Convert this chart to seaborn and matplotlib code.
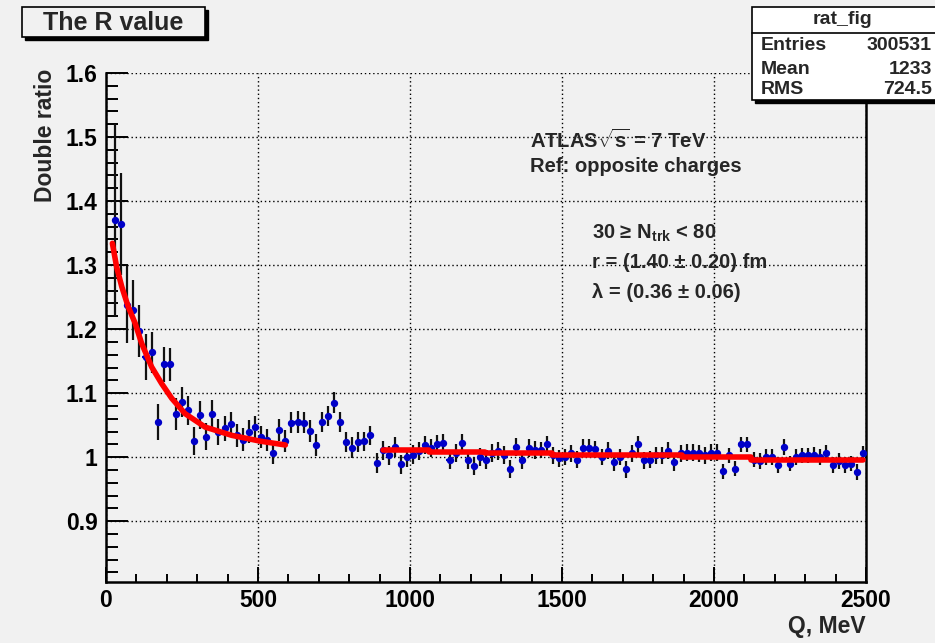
import numpy as np
import pandas as pd
import matplotlib
matplotlib.use('Agg')
import matplotlib.pyplot as plt
import seaborn as sns
from matplotlib.patches import Rectangle
from matplotlib.lines import Line2D
from matplotlib.ticker import MultipleLocator

# --- data ---
bin_width = 20
q_centers = np.arange(30, 2500, bin_width)   # 20 MeV bins, first filled bin 20-40

ratio = [
    1.370, 1.364, 1.238, 1.230, 1.197, 1.157, 1.164, 1.055, 1.145, 1.145,
    1.068, 1.086, 1.073, 1.025, 1.066, 1.032, 1.068, 1.039, 1.045, 1.051,
    1.034, 1.027, 1.040, 1.047, 1.032, 1.027, 1.006, 1.043, 1.025, 1.054,
    1.055, 1.054, 1.041, 1.019, 1.055, 1.064, 1.085, 1.055, 1.024, 1.015,
    1.024, 1.025, 1.034, 0.991, 1.011, 1.003, 1.016, 0.989, 1.000, 1.004,
    1.010, 1.019, 1.014, 1.020, 1.022, 0.996, 1.006, 1.022, 0.995, 0.986,
    1.000, 0.995, 1.006, 1.010, 1.003, 0.982, 1.016, 0.995, 1.015, 1.011,
    1.011, 1.020, 1.003, 0.998, 1.000, 1.006, 0.996, 1.015, 1.015, 1.012,
    1.000, 1.010, 0.992, 1.000, 0.981, 1.006, 1.020, 0.995, 0.996, 1.003,
    1.003, 1.010, 0.992, 1.006, 1.007, 1.007, 1.006, 1.003, 1.007, 1.007,
    0.978, 1.003, 0.982, 1.020, 1.020, 0.996, 0.994, 1.000, 1.000, 0.988,
    1.016, 0.990, 1.000, 1.003, 1.003, 1.004, 1.000, 1.007, 0.988, 0.994,
    0.988, 0.990, 0.977, 1.006,
]

ratio_err = [
    0.150, 0.080, 0.060, 0.047, 0.040, 0.036, 0.032, 0.028, 0.027, 0.026,
    0.025, 0.024, 0.023, 0.022, 0.022, 0.021, 0.021, 0.020, 0.020, 0.020,
    0.018, 0.018, 0.018, 0.018, 0.017, 0.017, 0.017, 0.017, 0.017, 0.017,
    0.017, 0.017, 0.017, 0.017, 0.016, 0.016, 0.016, 0.016, 0.016, 0.016,
    0.016, 0.015, 0.015, 0.015, 0.015, 0.015, 0.015, 0.015, 0.015, 0.015,
    0.014, 0.014, 0.014, 0.014, 0.014, 0.014, 0.014, 0.014, 0.014, 0.014,
    0.014, 0.014, 0.014, 0.014, 0.014, 0.014, 0.014, 0.014, 0.014, 0.014,
    0.013, 0.013, 0.013, 0.013, 0.013, 0.013, 0.013, 0.013, 0.013, 0.013,
    0.013, 0.013, 0.013, 0.013, 0.013, 0.013, 0.013, 0.013, 0.013, 0.013,
    0.013, 0.013, 0.013, 0.013, 0.013, 0.013, 0.013, 0.013, 0.013, 0.013,
    0.012, 0.012, 0.012, 0.012, 0.012, 0.012, 0.012, 0.012, 0.012, 0.012,
    0.012, 0.012, 0.012, 0.012, 0.012, 0.012, 0.012, 0.012, 0.012, 0.012,
    0.012, 0.012, 0.012, 0.012,
]

# low-Q fit curve
fit1_q = [21, 35, 52, 73, 96, 117, 150, 183, 216, 260, 326, 414, 507, 590]
fit1_r = [1.334, 1.297, 1.266, 1.235, 1.209, 1.178, 1.141, 1.115, 1.092,
          1.068, 1.047, 1.034, 1.025, 1.019]

# high-Q fit, drawn as steps
fit2_q = [911, 1062, 1248, 1468, 1896, 2121, 2490]
fit2_r = [1.011, 1.008, 1.006, 1.003, 1.000, 0.996, 0.996]

x_ticks = [0, 500, 1000, 1500, 2000, 2500]
y_ticks = [0.9, 1.0, 1.1, 1.2, 1.3, 1.4, 1.5, 1.6]
y_tick_labels = ['0.9', '1', '1.1', '1.2', '1.3', '1.4', '1.5', '1.6']

stats_title = 'rat_fig'
stats_names = ['Entries', 'Mean', 'RMS']
stats_values = ['300531', '1233', '724.5']

info_lines = [r'ATLAS$\sqrt{s}$ = 7 TeV', 'Ref: opposite charges']
fit_lines = [r'30 ≥ $\mathrm{N}_{\mathrm{trk}}$ < 80',
             'r = (1.40 ± 0.20) fm',
             'λ = (0.36 ± 0.06)']

# --- style ---
BG = '#f1f1f1'
BLUE = '#0000c8'
RED = '#ff0000'

sns.set_theme(style='ticks')
plt.rcParams['font.family'] = ['Liberation Sans', 'DejaVu Sans']
plt.rcParams['font.weight'] = 'bold'
plt.rcParams['mathtext.fontset'] = 'custom'
plt.rcParams['mathtext.rm'] = 'Liberation Sans:bold'
plt.rcParams['mathtext.it'] = 'Liberation Sans:bold'
plt.rcParams['mathtext.bf'] = 'Liberation Sans:bold'

W, H = 935, 643
fig = plt.figure(figsize=(W / 100, H / 100), dpi=100, facecolor=BG)


def fx(px):
    return px / W


def fy(py):
    return 1 - py / H


ax = fig.add_axes([fx(106), fy(582), (866 - 106) / W, (582 - 73) / H])
ax.set_facecolor(BG)

df = pd.DataFrame({'Q': q_centers, 'R': ratio, 'err': ratio_err})

# error bars: black vertical, blue horizontal (bin width)
ax.vlines(df['Q'], df['R'] - df['err'], df['R'] + df['err'],
          color='#111111', lw=1.6, zorder=3)
ax.hlines(df['R'], df['Q'] - bin_width / 2, df['Q'] + bin_width / 2,
          color=BLUE, lw=1.6, zorder=4)
sns.scatterplot(data=df, x='Q', y='R', ax=ax, color=BLUE, marker='o',
                s=28, edgecolor=BLUE, linewidth=0, zorder=5, legend=False)

# fits
fit1 = pd.DataFrame({'Q': fit1_q, 'R': fit1_r})
fit2 = pd.DataFrame({'Q': fit2_q, 'R': fit2_r})
sns.lineplot(data=fit1, x='Q', y='R', ax=ax, color=RED, lw=4, sort=False,
             zorder=6, estimator=None)
sns.lineplot(data=fit2, x='Q', y='R', ax=ax, color=RED, lw=4, sort=False,
             zorder=6, estimator=None, drawstyle='steps-post')

ax.set_xlim(0, 2500)
ax.set_ylim(0.805, 1.6)
ax.set_xticks(x_ticks)
ax.set_yticks(y_ticks)
ax.set_yticklabels(y_tick_labels)
ax.xaxis.set_minor_locator(MultipleLocator(100))
ax.yaxis.set_minor_locator(MultipleLocator(0.02))
ax.tick_params(axis='both', which='both', direction='in', colors='black',
               labelsize=16.5, width=1.4, right=False, top=False)
ax.tick_params(axis='y', which='major', length=16, pad=6)
ax.tick_params(axis='y', which='minor', length=8.5)
ax.tick_params(axis='x', which='major', length=11, pad=5)
ax.tick_params(axis='x', which='minor', length=5.5)
for lab in ax.get_xticklabels() + ax.get_yticklabels():
    lab.set_fontweight('bold')

ax.grid(True, which='major', color='black', linestyle=(0, (1, 2)), lw=1)
for side in ['left', 'bottom', 'right']:
    ax.spines[side].set_color('black')
    ax.spines[side].set_linewidth(1.8)
ax.spines['top'].set_visible(False)
ax.set_xlabel('')
ax.set_ylabel('')

# axis titles
fig.text(fx(866), fy(627), 'Q, MeV', ha='right', va='center',
         fontsize=16.5, fontweight='bold')
fig.text(fx(45), fy(69), 'Double ratio', ha='center', va='top',
         rotation=90, fontsize=16.5, fontweight='bold')

# annotations
for txt, py in zip(info_lines, [140, 167]):
    fig.text(fx(530), fy(py), txt, ha='left', va='center',
             fontsize=14.5, fontweight='bold')
for txt, py in zip(fit_lines, [233, 262, 293]):
    fig.text(fx(592), fy(py), txt, ha='left', va='center',
             fontsize=14.5, fontweight='bold')

# title box with shadow
fig.patches.append(Rectangle((fx(25), fy(40)), (208 - 25) / W, (40 - 10) / H,
                             transform=fig.transFigure, facecolor='black',
                             edgecolor='black', zorder=10))
fig.patches.append(Rectangle((fx(22), fy(37)), (205 - 22) / W, (37 - 7) / H,
                             transform=fig.transFigure, facecolor=BG,
                             edgecolor='black', lw=1.2, zorder=11))
fig.text(fx(113), fy(23), 'The R value', ha='center', va='center',
         fontsize=18, fontweight='bold', zorder=12)

# stats box with shadow
fig.patches.append(Rectangle((fx(755), fy(103)), (940 - 755) / W, (103 - 10) / H,
                             transform=fig.transFigure, facecolor='black',
                             edgecolor='black', zorder=10))
fig.patches.append(Rectangle((fx(752), fy(100)), (940 - 752) / W, (100 - 7) / H,
                             transform=fig.transFigure, facecolor='white',
                             edgecolor='black', lw=1.2, zorder=11))
fig.lines.append(Line2D([fx(752), fx(935)], [fy(33), fy(33)],
                        transform=fig.transFigure, color='black', lw=1.2,
                        zorder=12))
fig.text(fx(843), fy(20), stats_title, ha='center', va='center',
         fontsize=14, fontweight='bold', zorder=12)
for name, val, py in zip(stats_names, stats_values, [46, 69, 90]):
    fig.text(fx(761), fy(py), name, ha='left', va='center',
             fontsize=14, fontweight='bold', zorder=12)
    fig.text(fx(932), fy(py), val, ha='right', va='center',
             fontsize=14, fontweight='bold', zorder=12)

fig.savefig('out.png', dpi=100, facecolor=BG)
